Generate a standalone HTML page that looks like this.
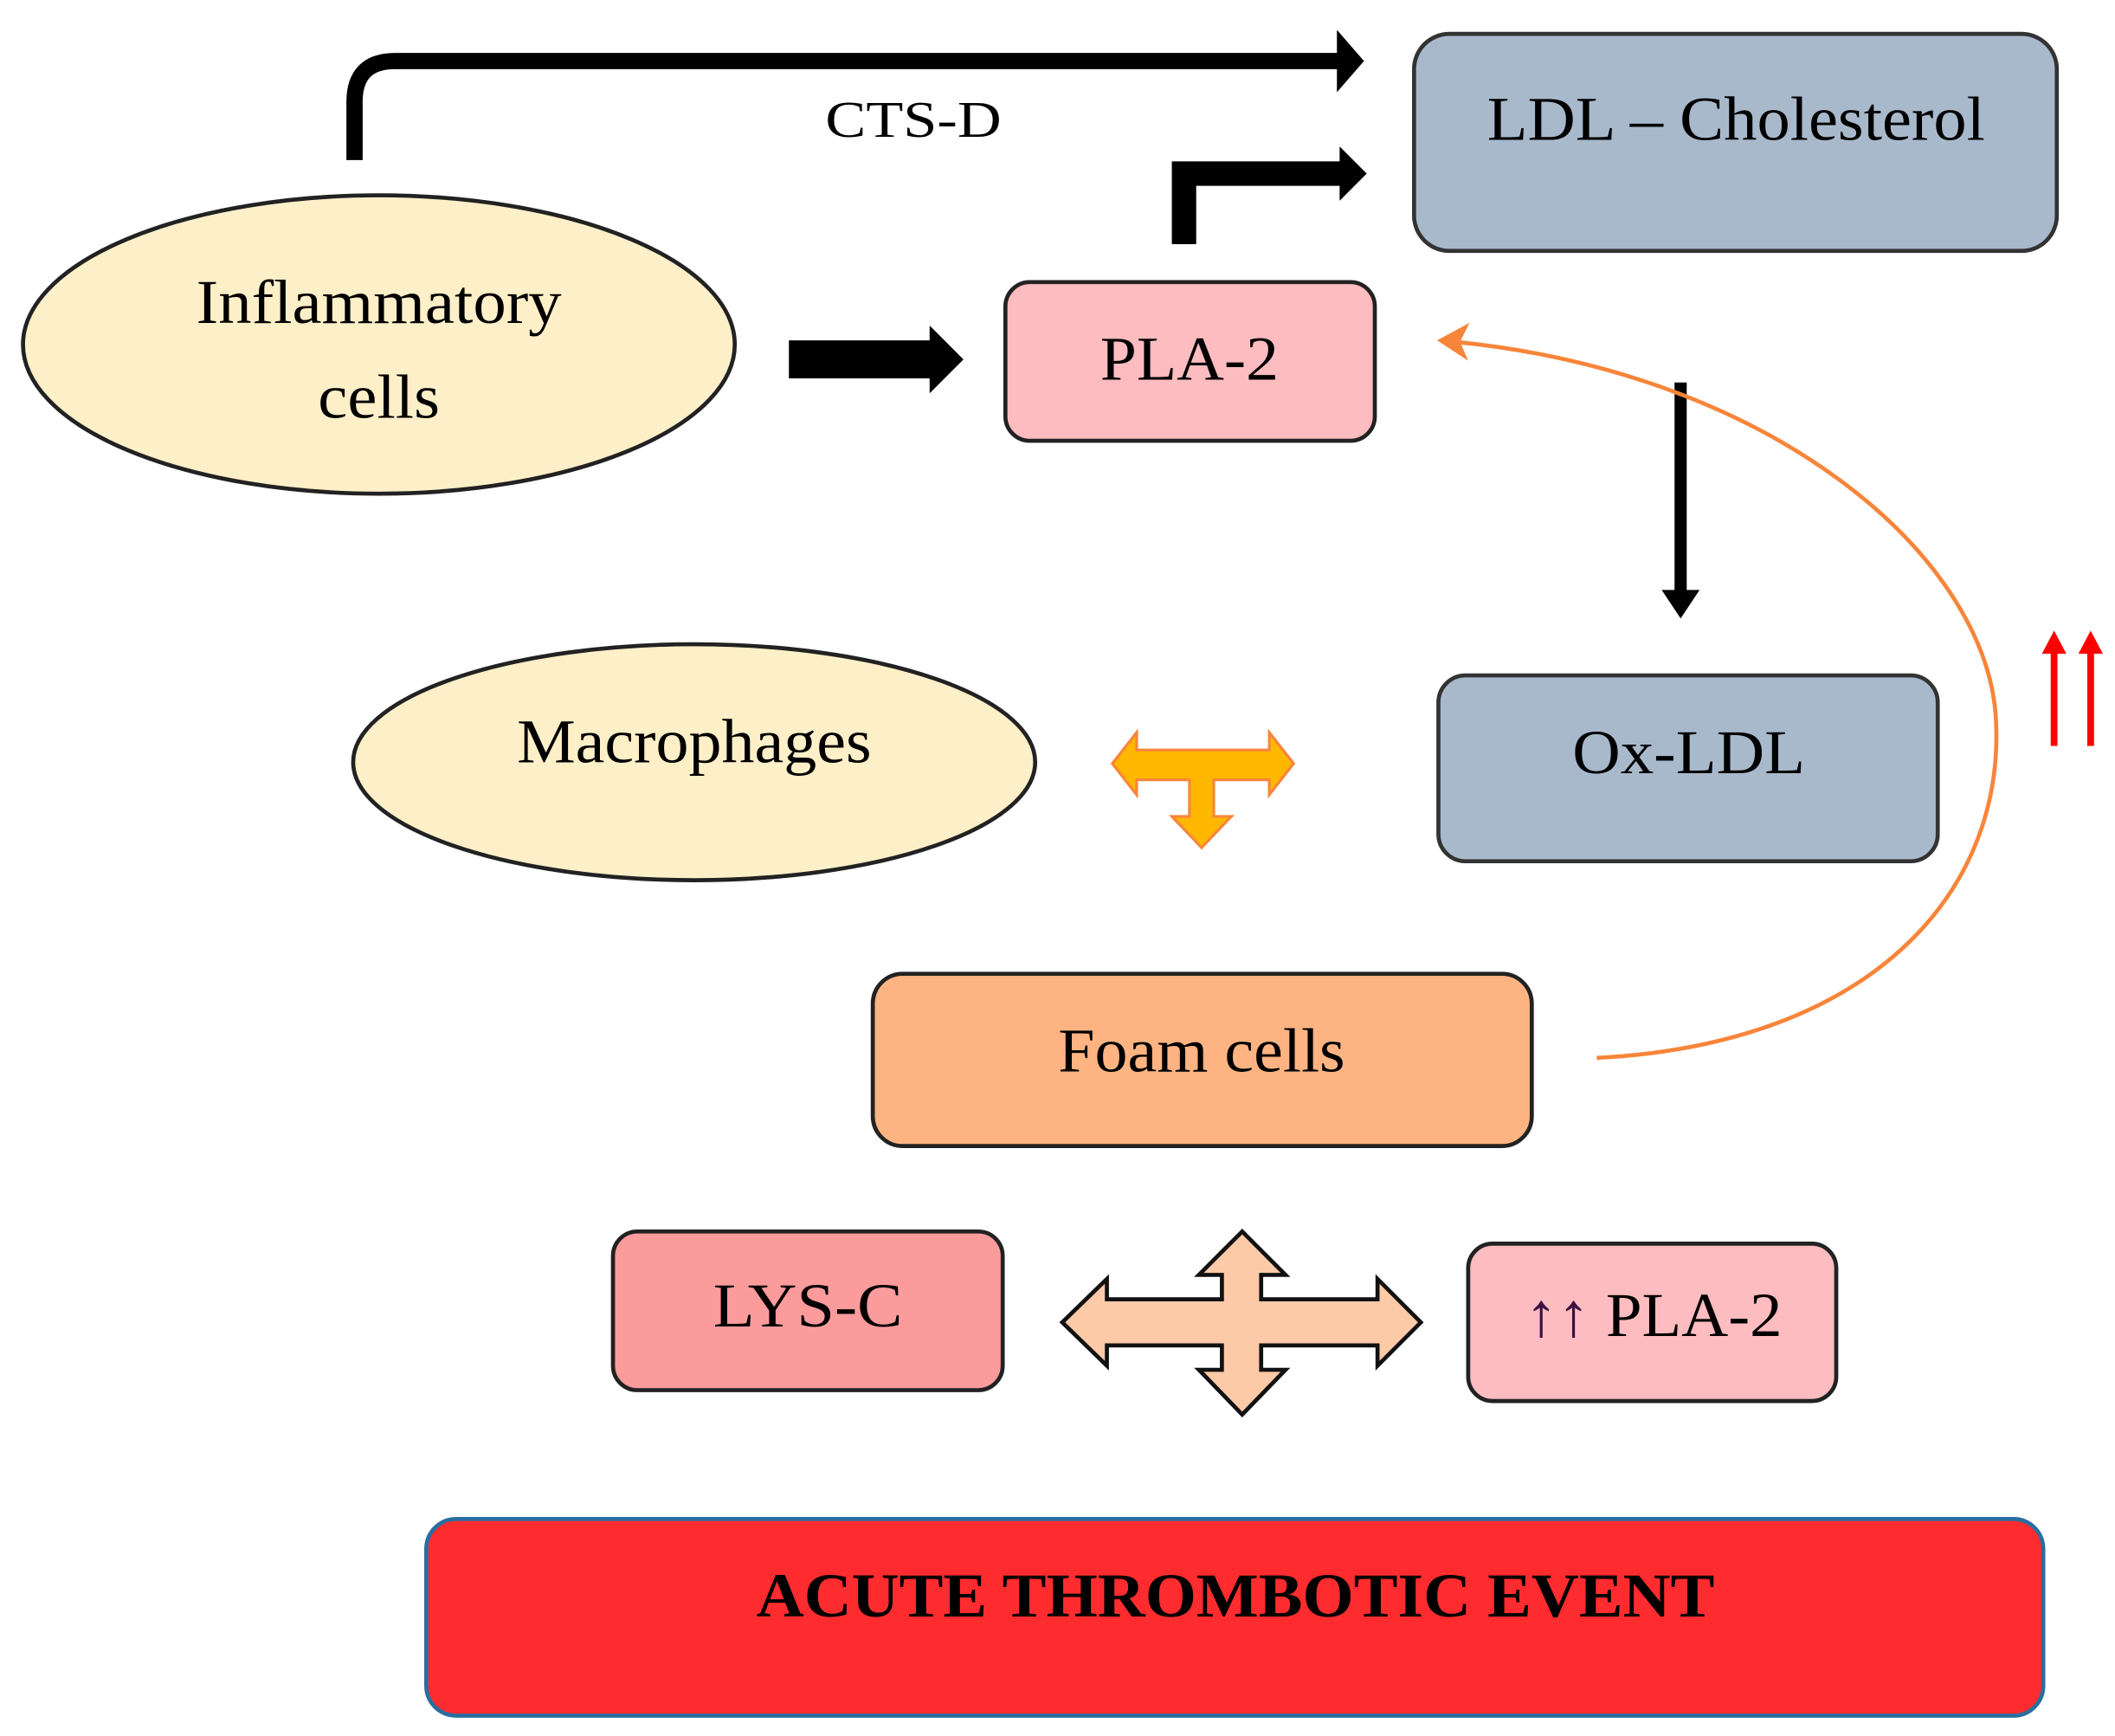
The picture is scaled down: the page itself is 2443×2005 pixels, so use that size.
<!DOCTYPE html>
<html><head><meta charset="utf-8"><style>html,body{margin:0;padding:0;background:#fff}svg{display:block}</style></head>
<body>
<svg width="2443" height="2005" viewBox="0 0 1563 1280" preserveAspectRatio="none" xmlns="http://www.w3.org/2000/svg" font-family="Liberation Serif, serif">
<!-- top arrow -->
<path d="M262,118 L262,75 Q262,45 292,45 L992,45" fill="none" stroke="#000" stroke-width="12"/>
<path d="M988,22 L1008,45 L988,68 Z" fill="#000"/>
<text x="675" y="101" font-size="38" text-anchor="middle" fill="#000" textLength="130" lengthAdjust="spacingAndGlyphs">CTS-D</text>
<!-- PLA bent arrow -->
<path d="M875,180 L875,128 L992,128" fill="none" stroke="#000" stroke-width="18"/>
<path d="M990,108 L1010,128 L990,148 Z" fill="#000"/>
<!-- LDL box -->
<rect x="1045" y="25" width="475" height="160" rx="26" fill="#a9b9cc" stroke="#333" stroke-width="3"/>
<text x="1283" y="103" font-size="46" text-anchor="middle" textLength="368" lengthAdjust="spacingAndGlyphs">LDL – Cholesterol</text>
<!-- Inflammatory -->
<ellipse cx="280" cy="254" rx="263" ry="110" fill="#fdefc8" stroke="#222" stroke-width="3"/>
<text x="280" y="238" font-size="46" text-anchor="middle" textLength="270" lengthAdjust="spacingAndGlyphs">Inflammatory</text>
<text x="280" y="308" font-size="46" text-anchor="middle" textLength="90" lengthAdjust="spacingAndGlyphs">cells</text>
<!-- big arrow -->
<path d="M583,251 L687,251 L687,240 L712,265 L687,290 L687,279 L583,279 Z" fill="#000"/>
<!-- PLA-2 -->
<rect x="743" y="208" width="273" height="117" rx="18" fill="#fdbcbf" stroke="#222" stroke-width="3"/>
<text x="879" y="280" font-size="46" text-anchor="middle" textLength="132" lengthAdjust="spacingAndGlyphs">PLA-2</text>
<!-- down arrow -->
<line x1="1242" y1="282" x2="1242" y2="440" stroke="#000" stroke-width="9"/>
<path d="M1228,435 L1242,456 L1256,435 Z" fill="#000"/>
<!-- orange curve -->
<path d="M1180,780 C1380,770 1482,660 1475,530 C1468,410 1310,275 1075,252" fill="none" stroke="#f7853a" stroke-width="3"/>
<path d="M1062,251 L1086,238 L1079,252 L1085,266 Z" fill="#f7853a"/>
<!-- red arrows -->
<g stroke="#ff0000" stroke-width="5"><line x1="1518" y1="480" x2="1518" y2="550"/><line x1="1545" y1="480" x2="1545" y2="550"/></g>
<path d="M1509,482 L1518,465 L1527,482Z M1536,482 L1545,465 L1554,482Z" fill="#ff0000"/>
<!-- Ox-LDL -->
<rect x="1063" y="498" width="369" height="137" rx="20" fill="#a9b9cc" stroke="#333" stroke-width="3"/>
<text x="1248" y="570" font-size="46" text-anchor="middle" textLength="172" lengthAdjust="spacingAndGlyphs">Ox-LDL</text>
<!-- Macrophages -->
<ellipse cx="513" cy="562" rx="252" ry="87" fill="#fdefc8" stroke="#222" stroke-width="3"/>
<text x="513" y="562" font-size="46" text-anchor="middle" textLength="262" lengthAdjust="spacingAndGlyphs">Macrophages</text>
<!-- orange T arrow -->
<path d="M822,563 L840,540 L840,553 L938,553 L938,540 L956,563 L938,586 L938,575 L897,575 L897,602 L910,602 L888,625 L866,602 L879,602 L879,575 L840,575 L840,586 Z" fill="#ffb700" stroke="#f7853a" stroke-width="2"/>
<!-- Foam cells -->
<rect x="645" y="718" width="487" height="127" rx="22" fill="#fdb482" stroke="#222" stroke-width="3"/>
<text x="888" y="790" font-size="46" text-anchor="middle" textLength="212" lengthAdjust="spacingAndGlyphs">Foam cells</text>
<!-- LYS-C -->
<rect x="453" y="908" width="288" height="117" rx="18" fill="#fc9b9c" stroke="#222" stroke-width="3"/>
<text x="597" y="978" font-size="46" text-anchor="middle" textLength="140" lengthAdjust="spacingAndGlyphs">LYS-C</text>
<!-- ↑↑ PLA-2 -->
<rect x="1085" y="917" width="272" height="116" rx="18" fill="#fdbcbf" stroke="#222" stroke-width="3"/>
<text x="1222" y="985" font-size="46" text-anchor="middle" textLength="190" lengthAdjust="spacingAndGlyphs"><tspan fill="#3a1040">↑↑</tspan> PLA-2</text>
<!-- four-way arrow -->
<path d="M785,975 L818,943 L818,958 L903,958 L903,940 L886,940 L918,908 L950,940 L932,940 L932,958 L1018,958 L1018,943 L1050,975 L1018,1007 L1018,992 L932,992 L932,1010 L950,1010 L918,1043 L886,1010 L903,1010 L903,992 L818,992 L818,1007 Z" fill="#fdcaa8" stroke="#111" stroke-width="3"/>
<!-- Acute -->
<rect x="315" y="1120" width="1195" height="145" rx="22" fill="#fe2c2e" stroke="#2a6ea0" stroke-width="3"/>
<text x="913" y="1192" font-size="46" font-weight="bold" text-anchor="middle" textLength="708" lengthAdjust="spacingAndGlyphs">ACUTE THROMBOTIC EVENT</text>
</svg>
</body></html>
